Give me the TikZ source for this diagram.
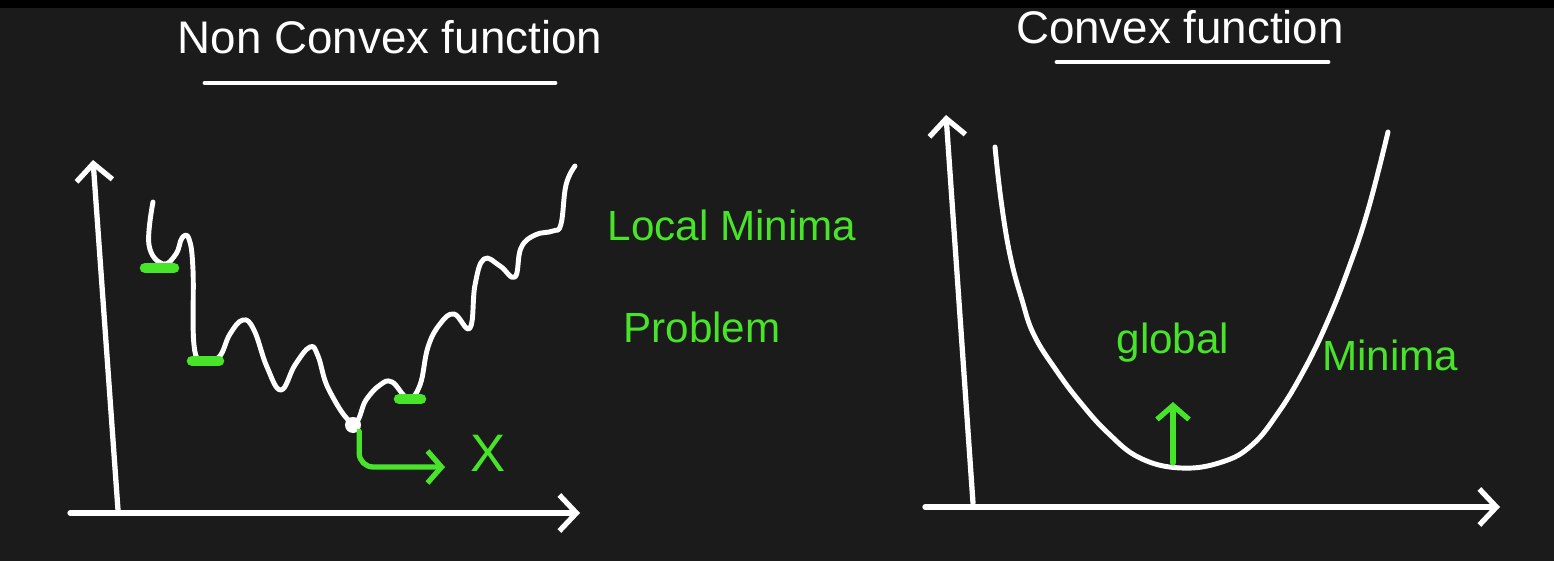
\documentclass[tikz,border=0pt]{standalone}
\usepackage{fontspec}
\setmainfont{Liberation Sans}
\usetikzlibrary{arrows.meta,positioning}
\definecolor{board}{RGB}{27,27,27}
\definecolor{chalkgreen}{RGB}{72,228,42}

\begin{document}
\begin{tikzpicture}[x=0.01cm, y=-0.01cm, line cap=round, line join=round]
    % Styles
    \tikzstyle{axis} = [draw=white, line width=1.5pt, -{Straight Barb[length=1.7mm, width=3.6mm]}]
    \tikzstyle{curve} = [draw=white, line width=1.4pt]
    \tikzstyle{bar} = [draw=chalkgreen, line width=3pt]
    \tikzstyle{title} = [text=white, font=\fontsize{13}{15}\selectfont, inner sep=0pt]
    \tikzstyle{note} = [text=chalkgreen, font=\fontsize{12}{14}\selectfont, inner sep=0pt]
    \tikzstyle{pointer} = [draw=chalkgreen, line width=1.5pt, -{Straight Barb[length=1.4mm, width=3.2mm]}]
    \tikzstyle{dot} = [circle, fill=white, minimum size=0.16cm, inner sep=0pt]

    % Board
    \fill[board] (0,0) rectangle (1554,561);
    \fill[black] (0,0) rectangle (1554,8);
    \useasboundingbox (0,0) rectangle (1554,561);

    % Titles
    \node[title] (ncvx) at (390,37) {Non Convex function};
    \node[title] (cvx) at (1180,27) {Convex function};
    \coordinate (ua) at (205,83);
    \coordinate (ub) at (555,83);
    \coordinate (uc) at (1057,62);
    \coordinate (ud) at (1328,62);
    \draw[curve] (ua) -- (ub);
    \draw[curve] (uc) -- (ud);

    % Axes
    \coordinate (lyb) at (118,510);
    \coordinate (lyt) at (93,160);
    \coordinate (lxa) at (70,513);
    \coordinate (lxb) at (580,513);
    \coordinate (ryb) at (973,503);
    \coordinate (ryt) at (946,115);
    \coordinate (rxa) at (925,507);
    \coordinate (rxb) at (1500,507);
    \draw[axis] (lyb) -- (lyt);
    \draw[axis] (lxa) -- (lxb);
    \draw[axis] (ryb) -- (ryt);
    \draw[axis] (rxa) -- (rxb);

    % Non convex curve
    \draw[curve] plot[smooth, tension=0.7] coordinates {(153,202) (149,245) (163,264) (176,254) (182,238) (189,239)
        (193,270) (194,345) (203,360) (219,357) (230,334) (243,320) (254,330) (267,367) (281,390) (295,365)
        (310,347) (318,356) (329,390) (353,423) (366,400) (380,385) (392,382) (408,398)
        (420,385) (428,347) (440,324) (454,314) (470,328) (475,285) (484,259) (500,266)
        (515,277) (521,248) (535,235) (553,231) (561,224) (566,185) (575,166)};
    \draw[bar] (145,268) -- (174,268);
    \draw[bar] (192,361) -- (219,361);
    \draw[bar] (399,399) -- (421,399);
    \node[dot] (gmin) at (353,425) {};
    \node[note, font=\fontsize{15}{17}\selectfont] (xlab) at (488,453) {X};
    \coordinate (xtip) at (445,467);
    \draw[pointer, rounded corners=4pt] (gmin.south east) |- (xtip);

    \node[note] (lmin) at (732,225) {Local Minima};
    \node[note, below=0.7cm of lmin, xshift=-0.3cm] (prob) {Problem};

    % Convex curve
    \draw[curve] plot[smooth, tension=0.7] coordinates {(995,147) (1001,200) (1010,255) (1022,300) (1034,335)
        (1056,370) (1080,402) (1108,433) (1140,458) (1181,468) (1222,462) (1252,445)
        (1278,413) (1303,372) (1326,325) (1348,270) (1368,210) (1388,132)};
    \coordinate (gbot) at (1173,463);
    \coordinate (gtop) at (1173,402);
    \draw[pointer] (gbot) -- (gtop);
    \node[note] (glob) at (1173,343) {global};
    \node[note] (mina) at (1390,355) {Minima};
\end{tikzpicture}
\end{document}
